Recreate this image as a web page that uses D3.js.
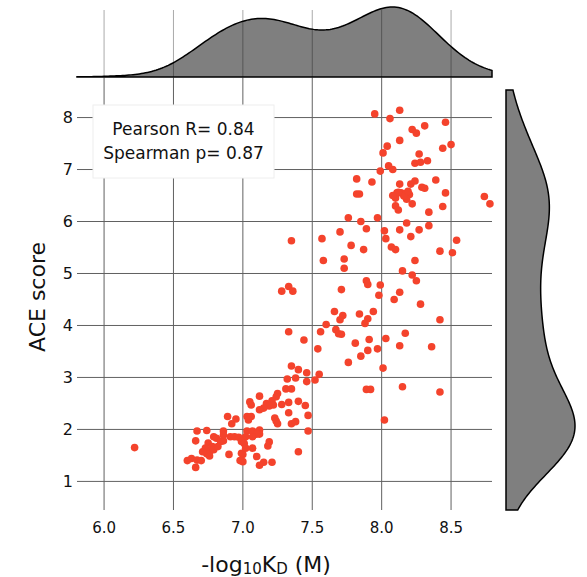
<!DOCTYPE html>
<html>
<head>
<meta charset="utf-8">
<script src="https://cdn.jsdelivr.net/npm/d3@7"></script>
<style>
  body { margin: 0; background: #fff; }
  text { font-family: "DejaVu Sans", sans-serif; fill: #111; }
</style>
</head>
<body>
<svg id="chart" width="587" height="577"></svg>
<script>
// -log10 KD (M) for each antibody
var kd = [7.95,8.13,8.06,8.46,8.31,8.22,8.25,8.13,8.04,8.50,8.44,8.01,8.27,8.24,8.28,8.33,8.05,8.08,7.99,7.82,
  7.93,8.39,8.24,8.21,8.13,8.29,8.31,7.82,7.84,8.46,8.11,8.14,8.17,8.20,8.10,8.18,8.22,8.10,8.12,8.44,
  8.74,8.78,8.34,7.76,7.97,7.85,8.18,8.34,7.89,8.02,8.13,8.27,7.70,7.35,7.57,8.03,8.21,8.54,7.78,7.87,
  8.07,8.10,8.42,8.51,7.58,7.73,7.73,8.24,8.15,8.22,7.89,8.25,7.90,7.99,7.28,7.33,7.36,7.71,8.13,7.98,
  8.09,8.28,7.66,7.94,7.72,7.70,7.84,7.90,7.88,7.60,7.56,7.67,7.69,7.71,8.42,7.33,7.44,7.81,7.91,8.03,
  8.17,8.13,8.36,7.54,7.90,7.97,7.85,7.76,8.01,7.35,7.40,7.46,7.55,7.32,7.38,7.46,7.52,7.31,7.35,7.89,
  7.92,8.15,8.42,7.25,7.24,7.12,7.17,7.21,7.22,7.19,7.15,7.28,7.33,7.40,7.45,7.12,7.33,7.47,7.23,7.24,
  7.25,7.35,7.38,8.02,7.12,7.12,7.47,7.19,7.18,7.40,7.15,7.21,7.12,7.05,7.06,7.03,7.06,7.04,7.03,7.07,
  7.10,7.02,7.00,7.07,7.07,7.00,7.10,7.00,6.99,6.98,6.22,6.60,6.63,6.67,6.70,6.66,6.67,6.66,6.74,6.75,
  6.73,6.76,6.74,6.78,6.79,6.71,6.76,6.79,6.81,6.84,6.86,6.86,6.86,6.82,6.89,6.92,6.95,6.90,6.91,6.94,
  6.97,6.99,7.01,7.02,8.16,8.12,8.19,8.08];
// ACE score, same order
var ace = [8.07,8.14,7.98,7.91,7.84,7.77,7.70,7.56,7.45,7.48,7.41,7.32,7.30,7.12,7.14,7.17,7.07,7.00,6.97,6.82,
  6.76,6.80,6.78,6.72,6.72,6.66,6.64,6.53,6.53,6.55,6.55,6.55,6.54,6.52,6.45,6.43,6.34,6.30,6.22,6.29,
  6.48,6.34,6.18,6.07,6.07,6.00,5.97,5.92,5.86,5.82,5.84,5.84,5.80,5.63,5.67,5.67,5.71,5.64,5.54,5.46,
  5.51,5.46,5.43,5.40,5.25,5.28,5.10,5.25,5.05,4.97,4.86,4.86,4.79,4.78,4.66,4.75,4.66,4.69,4.64,4.58,
  4.50,4.41,4.27,4.27,4.19,4.11,4.22,4.13,4.04,4.02,3.88,3.92,3.84,3.83,4.11,3.88,3.72,3.66,3.73,3.75,
  3.85,3.61,3.59,3.55,3.52,3.55,3.41,3.29,3.18,3.22,3.15,3.09,3.06,2.97,2.99,2.92,2.95,2.78,2.78,2.77,
  2.77,2.82,2.72,2.69,2.63,2.64,2.50,2.55,2.47,2.45,2.41,2.48,2.52,2.54,2.46,2.38,2.32,2.27,2.22,2.16,
  2.11,2.11,2.15,2.18,1.99,1.91,1.97,1.76,1.68,1.57,1.37,1.37,1.31,2.53,2.47,2.25,2.25,2.18,1.97,1.97,
  1.91,1.86,1.80,1.86,1.64,1.52,1.48,1.38,1.54,1.40,1.65,1.40,1.44,1.41,1.40,1.27,1.97,1.78,1.98,1.74,
  1.64,1.57,1.53,1.67,1.61,1.57,1.49,1.86,1.83,1.77,1.78,1.97,1.89,1.67,2.25,2.11,2.20,1.52,1.86,1.86,
  1.85,1.77,1.73,1.64,6.49,6.56,6.58,6.50];

var xTicks = [6.0, 6.5, 7.0, 7.5, 8.0, 8.5];
var yTicks = [1, 2, 3, 4, 5, 6, 7, 8];
var statLines = ["Pearson R= 0.84", "Spearman p= 0.87"];

var svg = d3.select("#chart");

var x = d3.scaleLinear().domain([5.805, 8.795]).range([77, 492]);
var y = d3.scaleLinear().domain([0.45, 8.53]).range([510, 90]);

// gaussian kde, scott bandwidth (like seaborn), adj widens it a little
function kde(values, lo, hi, adj) {
  var n = values.length,
      bw = adj * d3.deviation(values) * Math.pow(n, -0.2),
      norm = 1 / (n * bw * Math.sqrt(2 * Math.PI));
  return d3.range(0, 201).map(function(i) {
    var g = lo + (hi - lo) * i / 200;
    var s = d3.sum(values, v => Math.exp(-0.5 * Math.pow((g - v) / bw, 2)));
    return [g, s * norm];
  });
}

var topDens = kde(kd, x.domain()[0], x.domain()[1], 1.12);
var rightDens = kde(ace, y.domain()[0], y.domain()[1], 1.0);

var dTop = d3.scaleLinear().domain([0, d3.max(topDens, d => d[1])]).range([77, 7]);
var dRight = d3.scaleLinear().domain([0, d3.max(rightDens, d => d[1])]).range([506, 575]);

// grid of the main panel
svg.append("g").selectAll("line")
    .data(yTicks)
    .enter().append("line")
    .attr("x1", 77).attr("x2", 492)
    .attr("y1", d => y(d)).attr("y2", d => y(d))
    .attr("stroke", "#616161").attr("stroke-width", 1);

svg.append("g").selectAll("line")
    .data(xTicks)
    .enter().append("line")
    .attr("x1", d => x(d)).attr("x2", d => x(d))
    .attr("y1", 78).attr("y2", 510)
    .attr("stroke", "#616161").attr("stroke-width", 1);

// grid of the top marginal
svg.append("g").selectAll("line")
    .data(xTicks)
    .enter().append("line")
    .attr("x1", d => x(d)).attr("x2", d => x(d))
    .attr("y1", 10).attr("y2", 78)
    .attr("stroke", "#aaaaaa").attr("stroke-width", 1);

// marginal densities
svg.append("path")
    .datum(topDens)
    .attr("d", d3.area().x(d => x(d[0])).y0(77).y1(d => dTop(d[1])))
    .attr("fill", "#000").attr("fill-opacity", 0.5)
    .attr("stroke", "#000").attr("stroke-width", 1.5);

svg.append("path")
    .datum(rightDens)
    .attr("d", d3.area().y(d => y(d[0])).x0(506).x1(d => dRight(d[1])))
    .attr("fill", "#000").attr("fill-opacity", 0.5)
    .attr("stroke", "#000").attr("stroke-width", 1.5);

// points
svg.append("g").selectAll("circle")
    .data(kd)
    .enter().append("circle")
    .attr("cx", d => x(d))
    .attr("cy", (d, i) => y(ace[i]))
    .attr("r", 3.8)
    .attr("fill", "#f4432c");

// tick labels
svg.append("g").selectAll("text")
    .data(yTicks)
    .enter().append("text")
    .attr("x", 73).attr("y", d => y(d)).attr("dy", "0.36em")
    .attr("text-anchor", "end")
    .style("font-size", "16px")
    .text(d => d);

svg.append("g").selectAll("text")
    .data(xTicks)
    .enter().append("text")
    .attr("x", d => x(d)).attr("y", 533)
    .attr("text-anchor", "middle")
    .style("font-size", "15px")
    .text(d3.format(".1f"));

// stats box
svg.append("rect")
    .attr("x", 93).attr("y", 105).attr("width", 181).attr("height", 73)
    .attr("fill", "#fff").attr("stroke", "#eeeeee");

svg.append("g").selectAll("text")
    .data(statLines)
    .enter().append("text")
    .attr("x", 183.5).attr("y", (d, i) => 135 + i * 24)
    .attr("text-anchor", "middle")
    .style("font-size", "17px")
    .text(d => d);

// axis titles
var xl = svg.append("text")
    .attr("x", 266).attr("y", 572)
    .attr("text-anchor", "middle")
    .style("font-size", "22px");
xl.append("tspan").text("-log");
xl.append("tspan").attr("dy", 2).style("font-size", "15px").text("10");
xl.append("tspan").attr("dy", -2).text("K");
xl.append("tspan").attr("dy", 2).style("font-size", "15px").text("D");
xl.append("tspan").attr("dy", -2).text(" (M)");

svg.append("text")
    .attr("transform", "translate(45,297) rotate(-90)")
    .attr("text-anchor", "middle")
    .style("font-size", "22px")
    .text("ACE score");
</script>
</body>
</html>
